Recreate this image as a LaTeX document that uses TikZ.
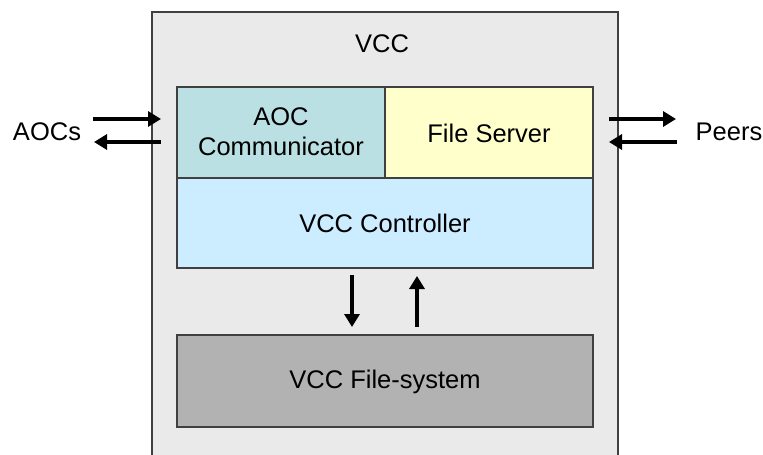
\documentclass[tikz,border=0pt]{standalone}
\usepackage{fontspec}
\setmainfont{Liberation Sans}
\usetikzlibrary{arrows.meta}
\definecolor{outerfill}{HTML}{EAEAEA}
\definecolor{aocfill}{HTML}{BBE0E3}
\definecolor{fsfill}{HTML}{FFFFCC}
\definecolor{ctrlfill}{HTML}{CCECFF}
\definecolor{fsysfill}{HTML}{B2B2B2}
\definecolor{edge}{HTML}{404040}
\begin{document}
\begin{tikzpicture}[x=1pt,y=-1pt,
  box/.style={draw=edge,line width=1.1pt},
  lbl/.style={font=\fontsize{25.5}{30}\selectfont,text=black,align=center},
  flow/.style={line width=3.3pt,-{Triangle[length=13pt,width=15pt]}}]
\useasboundingbox (0,0) rectangle (763,455);
% outer VCC box
\fill[outerfill] (152,12) rectangle (618,460);
\draw[edge,line width=1.1pt] (152,460) -- (152,12) -- (618,12) -- (618,460);
\node[lbl] (vcc) at (382,43.5) {VCC};
% inner boxes
\draw[box,fill=aocfill] (177,87) rectangle (385,178);
\node[lbl] (aoc) at (281,131.5) {AOC\\Communicator};
\draw[box,fill=fsfill] (385,87) rectangle (593,178);
\node[lbl] (fs) at (489,133) {File Server};
\draw[box,fill=ctrlfill] (177,178) rectangle (593,268);
\node[lbl] (ctrl) at (385,223.5) {VCC Controller};
\draw[box,fill=fsysfill] (177,335) rectangle (593,427);
\node[lbl] (fsys) at (385,381.5) {VCC File-system};
% side labels
\node[lbl] (aocs) at (47,131.5) {AOCs};
\node[lbl] (peers) at (729,131.5) {Peers};
% arrow end points
\coordinate (a1s) at (93,119);  \coordinate (a1e) at (161,119);
\coordinate (a2s) at (161,142); \coordinate (a2e) at (94,142);
\coordinate (p1s) at (609,119); \coordinate (p1e) at (676,119);
\coordinate (p2s) at (677,142); \coordinate (p2e) at (609,142);
\coordinate (d1s) at (352,275); \coordinate (d1e) at (352,327);
\coordinate (u1s) at (417,327); \coordinate (u1e) at (417,276);
\draw[flow] (a1s) -- (a1e);
\draw[flow] (a2s) -- (a2e);
\draw[flow] (p1s) -- (p1e);
\draw[flow] (p2s) -- (p2e);
\draw[flow] (d1s) -- (d1e);
\draw[flow] (u1s) -- (u1e);
\end{tikzpicture}
\end{document}
